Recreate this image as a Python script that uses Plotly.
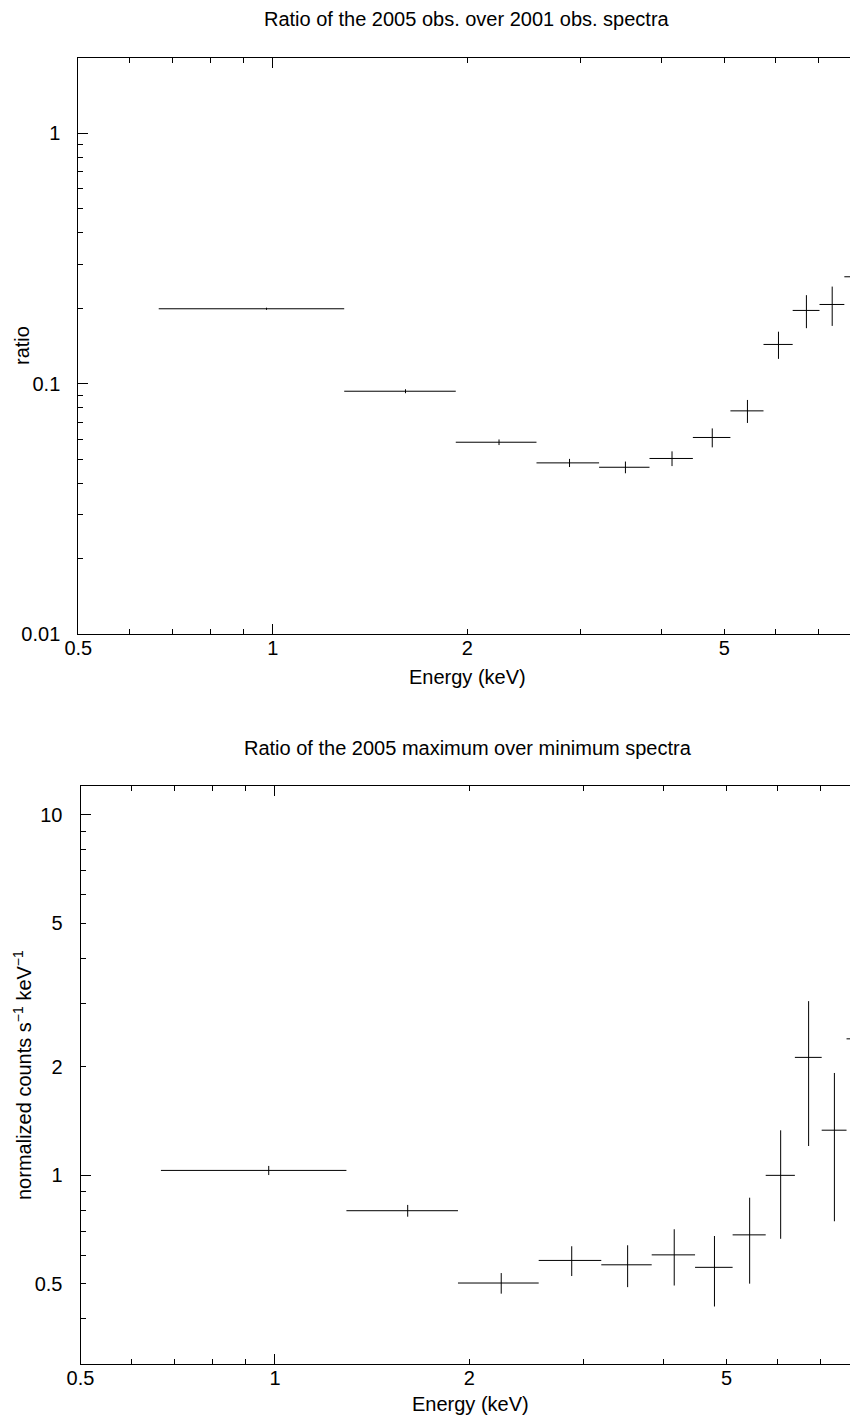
import math
import plotly.graph_objects as go

# ---------------- data ----------------
energy = [0.978, 1.605, 2.24, 2.88, 3.515, 4.15, 4.79, 5.43, 6.065, 6.70, 7.345, 7.985]
energy_halfwidth = [0.312, 0.315, 0.32, 0.32, 0.315, 0.32, 0.32, 0.32, 0.315, 0.32, 0.325, 0.315]

ratio_obs = [0.199, 0.0933, 0.0584, 0.0483, 0.0464, 0.0503, 0.0610, 0.0779, 0.1434, 0.196, 0.207, 0.267]
ratio_obs_err = [0.002, 0.0017, 0.0015, 0.0018, 0.0025, 0.0034, 0.0053, 0.0082, 0.0178, 0.0295, 0.037, 0.05]

ratio_maxmin = [1.032, 0.798, 0.503, 0.581, 0.565, 0.602, 0.556, 0.684, 1.0, 2.123, 1.334, 2.39]
ratio_maxmin_err = [0.030, 0.030, 0.033, 0.055, 0.075, 0.107, 0.123, 0.183, 0.333, 0.917, 0.588, 1.1]

x_labels = [0.5, 1, 2, 5]
x_label_text = ["0.5", "1", "2", "5"]
x_minor = [0.6, 0.7, 0.8, 0.9, 3, 4, 6, 7]
x_decades = [1]

top_y_labels = [0.01, 0.1, 1]
top_y_text = ["0.01", "0.1", "1"]
top_y_minor = [0.02, 0.03, 0.04, 0.05, 0.06, 0.07, 0.08, 0.09,
               0.2, 0.3, 0.4, 0.5, 0.6, 0.7, 0.8, 0.9, 2]

bot_y_labels = [0.5, 1, 2, 5, 10]
bot_y_text = ["0.5", "1", "2", "5", "10"]
bot_y_minor = [0.3, 0.4, 0.6, 0.7, 0.8, 0.9, 3, 4, 6, 7, 8, 9]
bot_y_decades = [1, 10]

title_top = "Ratio of the 2005 obs. over 2001 obs. spectra"
title_bot = "Ratio of the 2005 maximum over minimum spectra"
xtitle = "Energy (keV)"
ytitle_top = "ratio"
ytitle_bot = "normalized counts s<sup>−1</sup> keV<sup>−1</sup>"

# ---------------- geometry (pixels) ----------------
W, H = 850, 1416
FONT = dict(family="Liberation Sans, Arial, Helvetica, sans-serif", size=20, color="black")


def fx(p):
    return p / W


def fy(p):
    return 1 - p / H


top_left, top_top, top_bot = 78.3, 57.6, 634.3
bot_left, bot_top, bot_bot = 80.5, 786.0, 1364.0
PX_PER_DEC = 646.0
x_lo = math.log10(0.5)
top_xrange = [x_lo, x_lo + (W - top_left) / PX_PER_DEC]
bot_xrange = [x_lo, x_lo + (W - bot_left) / PX_PER_DEC]
top_yrange = [math.log10(0.01), math.log10(2.0)]
bot_yrange = [math.log10(0.3), math.log10(12.0)]

fig = go.Figure()

err_style = dict(type="data", width=0, thickness=1, color="black", visible=True)

fig.add_trace(go.Scatter(
    x=energy, y=ratio_obs, mode="markers",
    marker=dict(size=1, color="black", opacity=0),
    error_x=dict(array=energy_halfwidth, **err_style),
    error_y=dict(array=ratio_obs_err, **err_style),
    xaxis="x", yaxis="y", showlegend=False, hoverinfo="skip",
))
fig.add_trace(go.Scatter(
    x=energy, y=ratio_maxmin, mode="markers",
    marker=dict(size=1, color="black", opacity=0),
    error_x=dict(array=energy_halfwidth, **err_style),
    error_y=dict(array=ratio_maxmin_err, **err_style),
    xaxis="x2", yaxis="y2", showlegend=False, hoverinfo="skip",
))
# empty traces to activate overlay axes carrying the long decade ticks
fig.add_trace(go.Scatter(x=[], y=[], xaxis="x3", yaxis="y", showlegend=False))
fig.add_trace(go.Scatter(x=[], y=[], xaxis="x4", yaxis="y2", showlegend=False))
fig.add_trace(go.Scatter(x=[], y=[], xaxis="x2", yaxis="y4", showlegend=False))

common = dict(type="log", showgrid=False, zeroline=False, ticks="inside",
              tickcolor="black", tickwidth=1, tickfont=FONT, automargin=False,
              fixedrange=True)

fig.update_layout(
    width=W, height=H,
    margin=dict(l=0, r=0, t=0, b=0),
    paper_bgcolor="white", plot_bgcolor="white",
    showlegend=False,
    font=FONT,
    xaxis=dict(**common, domain=[fx(top_left), 1], range=top_xrange, anchor="y",
               tickvals=x_labels, ticktext=x_label_text, ticklen=5,
               showline=True, linecolor="black", linewidth=1, mirror="ticks",
               ticklabelstandoff=-4,
               minor=dict(tickvals=x_minor, ticks="inside", ticklen=5,
                          tickcolor="black", tickwidth=1, showgrid=False)),
    yaxis=dict(**common, domain=[fy(top_bot), fy(top_top)], range=top_yrange, anchor="x",
               tickvals=top_y_labels, ticktext=top_y_text, ticklen=10,
               showline=True, linecolor="black", linewidth=1, mirror=False,
               ticklabelstandoff=13,
               minor=dict(tickvals=top_y_minor, ticks="inside", ticklen=5,
                          tickcolor="black", tickwidth=1, showgrid=False)),
    xaxis3=dict(**common, overlaying="x", anchor="y", range=top_xrange,
                domain=[fx(top_left), 1],
                tickvals=x_decades, ticklen=10, showticklabels=False,
                showline=False, mirror="ticks"),
    xaxis2=dict(**common, domain=[fx(bot_left), 1], range=bot_xrange, anchor="y2",
                tickvals=x_labels, ticktext=x_label_text, ticklen=5,
                showline=True, linecolor="black", linewidth=1, mirror="ticks",
                ticklabelstandoff=-4,
                minor=dict(tickvals=x_minor, ticks="inside", ticklen=5,
                           tickcolor="black", tickwidth=1, showgrid=False)),
    yaxis2=dict(**common, domain=[fy(bot_bot), fy(bot_top)], range=bot_yrange, anchor="x2",
                tickvals=bot_y_labels, ticktext=bot_y_text, ticklen=5,
                showline=True, linecolor="black", linewidth=1, mirror=False,
                ticklabelstandoff=13,
                minor=dict(tickvals=bot_y_minor, ticks="inside", ticklen=5,
                           tickcolor="black", tickwidth=1, showgrid=False)),
    xaxis4=dict(**common, overlaying="x2", anchor="y2", range=bot_xrange,
                domain=[fx(bot_left), 1],
                tickvals=x_decades, ticklen=10, showticklabels=False,
                showline=False, mirror="ticks"),
    yaxis4=dict(**common, overlaying="y2", anchor="x2", range=bot_yrange,
                domain=[fy(bot_bot), fy(bot_top)],
                tickvals=bot_y_decades, ticklen=10, showticklabels=False,
                showline=False, mirror=False),
)

annotations = [
    dict(text=title_top, x=fx(467), y=fy(19), xanchor="center", yanchor="middle"),
    dict(text=title_bot, x=fx(468), y=fy(748), xanchor="center", yanchor="middle"),
    dict(text=xtitle, x=fx(468), y=fy(677), xanchor="center", yanchor="middle"),
    dict(text=xtitle, x=fx(470), y=fy(1404), xanchor="center", yanchor="middle"),
    dict(text=ytitle_top, x=fx(22), y=fy(346), xanchor="center", yanchor="middle", textangle=-90),
    dict(text=ytitle_bot, x=fx(22), y=fy(1075), xanchor="center", yanchor="middle", textangle=-90),
]
for a in annotations:
    a.update(xref="paper", yref="paper", showarrow=False, font=FONT)
fig.update_layout(annotations=annotations)

fig.write_html("out.html")
